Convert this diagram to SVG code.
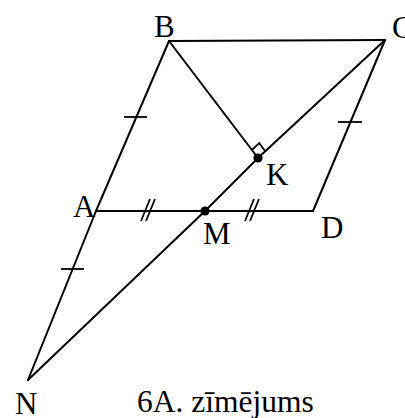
<svg xmlns="http://www.w3.org/2000/svg" width="405" height="418" viewBox="0 0 405 418">
<style>
.l{stroke:#000;stroke-width:2;fill:none;stroke-linecap:round;stroke-linejoin:miter}
.t{stroke:#000;stroke-width:1.8;fill:none}
.lab{font-family:"Liberation Serif","Times New Roman",serif;font-size:31px;fill:#000}
.cap{font-family:"Liberation Serif","Times New Roman",serif;font-size:31.5px;fill:#000}
.dot{fill:#000}
</style>
<rect width="405" height="418" fill="#fff"/>
<g id="connectors">
<line class="l" x1="169" y1="41" x2="385" y2="40"/>
<line class="l" x1="169" y1="41" x2="96" y2="211"/>
<line class="l" x1="96" y1="211" x2="28" y2="380"/>
<line class="l" x1="96" y1="211" x2="313" y2="211"/>
<line class="l" x1="313" y1="211" x2="385" y2="40"/>
<polyline class="l" points="385,40 258,158 205,211 28,380"/>
<line class="l" x1="169" y1="41" x2="258" y2="158"/>
<polyline class="t" points="251.9,150 259.2,143.2 265.3,151.2"/>
<line class="t" x1="124" y1="117" x2="147" y2="117"/>
<line class="t" x1="61" y1="269" x2="84" y2="269"/>
<line class="t" x1="338" y1="122" x2="362" y2="122"/>
<line class="t" x1="141" y1="221" x2="150" y2="199"/>
<line class="t" x1="146" y1="221" x2="155" y2="199"/>
<line class="t" x1="245" y1="221" x2="254" y2="199"/>
<line class="t" x1="250" y1="221" x2="259" y2="199"/>
</g>
<g id="B"><text class="lab" x="154" y="37">B</text></g>
<g id="C"><text class="lab" x="392" y="38">C</text></g>
<g id="A"><text class="lab" x="73" y="217">A</text></g>
<g id="D"><text class="lab" x="321" y="238">D</text></g>
<g id="K"><circle class="dot" cx="258" cy="158" r="4.6"/><text class="lab" x="266" y="185">K</text></g>
<g id="M"><circle class="dot" cx="205" cy="211" r="4.6"/><text class="lab" x="203" y="244">M</text></g>
<g id="N"><text class="lab" x="15" y="414">N</text></g>
<g id="caption"><text class="cap" x="137" y="412">6A. zīmējums</text></g>
</svg>
